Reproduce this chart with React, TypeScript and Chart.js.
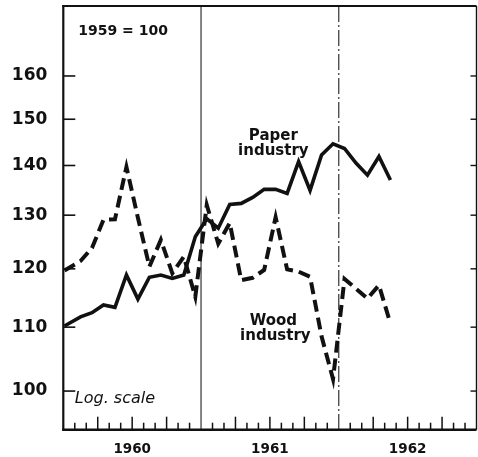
import React, { useEffect, useRef } from "react";
import { Chart, registerables } from "chart.js";

Chart.register(...registerables);

// Monthly index numbers, Jan 1960 – May 1962 (1959 = 100)
const months = [
  "Jan 1960", "Feb 1960", "Mar 1960", "Apr 1960", "May 1960", "Jun 1960",
  "Jul 1960", "Aug 1960", "Sep 1960", "Oct 1960", "Nov 1960", "Dec 1960",
  "Jan 1961", "Feb 1961", "Mar 1961", "Apr 1961", "May 1961", "Jun 1961",
  "Jul 1961", "Aug 1961", "Sep 1961", "Oct 1961", "Nov 1961", "Dec 1961",
  "Jan 1962", "Feb 1962", "Mar 1962", "Apr 1962", "May 1962",
];
const paperIndustry = [
  110.2, 111.7, 112.4, 113.7, 113.3, 118.9, 114.7, 118.5, 118.9, 118.3, 118.9, 125.9,
  129.3, 127.5, 132.1, 132.3, 133.5, 135.1, 135.1, 134.3, 140.8, 134.9, 142.2, 144.6,
  143.6, 140.5, 138.0, 141.9, 137.0,
];
const woodIndustry = [
  119.7, 121.4, 123.8, 129.1, 129.2, 139.7, 129.5, 120.4, 125.3, 119.2, 122.2, 115.1,
  132.0, 124.6, 128.5, 118.0, 118.4, 119.8, 129.6, 119.9, 119.5, 118.6, 108.5, 101.8,
  118.2, 116.5, 114.8, 117.1, 110.6,
];
const yearLabels = ["1960", "1961", "1962"];
const yTickValues = [100, 110, 120, 130, 140, 150, 160];

const INK = "#111111";
const FONT = "'DejaVu Sans', sans-serif";

// x position of a month in "months since Jan 1960" units (first reading sits at the axis)
const monthPos = (i: number) => (i === 0 ? 0.1 : i + 0.5);

const decorPlugin = {
  id: "decor",
  beforeDatasetsDraw(chart: any) {
    const { ctx, chartArea: a, scales } = chart;
    const x = scales.x;
    ctx.save();
    const x1 = x.getPixelForValue(12);
    ctx.strokeStyle = "#333";
    ctx.lineWidth = 1.2;
    ctx.beginPath();
    ctx.moveTo(x1, a.top);
    ctx.lineTo(x1, a.bottom);
    ctx.stroke();
    const x2 = x.getPixelForValue(24);
    ctx.setLineDash([16, 3, 2, 3]);
    ctx.beginPath();
    ctx.moveTo(x2, a.top);
    ctx.lineTo(x2, a.bottom);
    ctx.stroke();
    ctx.restore();
  },
  afterDatasetsDraw(chart: any) {
    const { ctx, chartArea: a, scales } = chart;
    const x = scales.x;
    const y = scales.y;
    ctx.save();
    ctx.strokeStyle = INK;
    ctx.lineCap = "butt";
    const seg = (x0: number, y0: number, x1: number, y1: number, w: number) => {
      ctx.lineWidth = w;
      ctx.beginPath();
      ctx.moveTo(x0, y0);
      ctx.lineTo(x1, y1);
      ctx.stroke();
    };
    seg(a.left, a.top - 1, a.left, a.bottom + 1, 2.2);
    seg(a.left - 1, a.bottom, a.right, a.bottom, 2.4);
    seg(a.left - 1, a.top, a.right, a.top, 2);
    seg(a.right, a.top, a.right, a.bottom, 1.4);
    yTickValues.forEach((v) => {
      const py = y.getPixelForValue(v);
      seg(a.left, py, a.left + 12, py, 1.6);
      seg(a.right - 6, py, a.right, py, 1.4);
    });
    for (let m = 1; m < 36; m++) {
      if (m === 12 || m === 24) continue;
      const px = x.getPixelForValue(m);
      const h = m % 3 === 0 ? 13 : 7;
      seg(px, a.bottom, px, a.bottom - h, 1.5);
    }
    ctx.fillStyle = INK;
    ctx.textBaseline = "middle";
    ctx.textAlign = "left";
    ctx.font = `bold 14px ${FONT}`;
    ctx.fillText("1959 = 100", x.getPixelForValue(1.3), y.getPixelForValue(171));
    ctx.textAlign = "center";
    ctx.font = `bold 15px ${FONT}`;
    const px = x.getPixelForValue(18.3);
    const pPaper = y.getPixelForValue(146.3);
    ctx.fillText("Paper", px, pPaper);
    ctx.fillText("industry", px, pPaper + 15);
    const pWood = y.getPixelForValue(111.0);
    ctx.fillText("Wood", px, pWood);
    ctx.fillText("industry", px + 2, pWood + 15);
    ctx.textAlign = "left";
    ctx.font = `italic 16px ${FONT}`;
    ctx.fillText("Log. scale", x.getPixelForValue(1.0), y.getPixelForValue(98.8));
    ctx.restore();
  },
};

export default function App() {
  const ref = useRef<HTMLCanvasElement | null>(null);

  useEffect(() => {
    if (!ref.current) return;
    const chart = new Chart(ref.current, {
      type: "line",
      data: {
        labels: months,
        datasets: [
          {
            label: "Paper industry",
            data: paperIndustry.map((v, i) => ({ x: monthPos(i), y: v })),
            borderColor: INK,
            borderWidth: 3.6,
            pointRadius: 0,
            tension: 0,
            fill: false,
          },
          {
            label: "Wood industry",
            data: woodIndustry.map((v, i) => ({ x: monthPos(i), y: v })),
            borderColor: INK,
            borderWidth: 4,
            borderDash: [12, 6],
            pointRadius: 0,
            tension: 0,
            fill: false,
          },
        ],
      },
      options: {
        animation: false,
        responsive: false,
        maintainAspectRatio: false,
        layout: { padding: { left: 0, right: 1.5, top: 6, bottom: 0 } },
        plugins: {
          legend: { display: false },
          tooltip: { enabled: false },
        },
        scales: {
          x: {
            type: "linear",
            min: 0,
            max: 36,
            afterBuildTicks: (s: any) => {
              s.ticks = yearLabels.map((_, i) => ({ value: 6 + 12 * i }));
            },
            afterFit: (s: any) => {
              s.height = 27.3;
              s.paddingLeft = 0;
              s.paddingRight = 0;
            },
            ticks: {
              autoSkip: false,
              maxRotation: 0,
              padding: 4,
              color: INK,
              font: { family: FONT, size: 13.5, weight: "bold" },
              callback: (v: any) => yearLabels[Math.round((Number(v) - 6) / 12)] ?? "",
            },
            grid: { display: false },
            border: { display: false },
          },
          y: {
            type: "logarithmic",
            min: 94.4,
            max: 177.6,
            afterBuildTicks: (s: any) => {
              s.ticks = yTickValues.map((v) => ({ value: v }));
            },
            afterFit: (s: any) => {
              s.width = 63.3;
              s.paddingTop = 0;
              s.paddingBottom = 0;
            },
            ticks: {
              padding: 8,
              color: INK,
              font: { family: FONT, size: 17, weight: "bold" },
              callback: (v: any) => String(v),
            },
            grid: { display: false },
            border: { display: false },
          },
        },
      },
      plugins: [decorPlugin],
    });
    return () => chart.destroy();
  }, []);

  return (
    <div style={{ position: "fixed", left: 0, top: 0, width: 478, height: 457, background: "#fff" }}>
      <canvas ref={ref} width={478} height={457} style={{ display: "block" }} />
    </div>
  );
}
